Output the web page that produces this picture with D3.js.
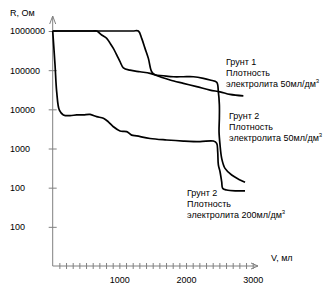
<!DOCTYPE html>
<html>
<head>
<meta charset="utf-8">
<script src="https://cdn.jsdelivr.net/npm/d3@7"></script>
<style>
  body { margin: 0; background: #fff; }
  svg { display: block; font-family: "Liberation Sans", Arial, sans-serif; }
</style>
</head>
<body>
<svg id="chart" width="324" height="286"></svg>
<script>
// Soil 1, electrolyte 50 ml/dm3
const soil1Volume = [0, 300, 600, 660, 735, 810, 860, 910, 960, 1010, 1060, 1160, 1310, 1460, 1610, 1760, 1960, 2160, 2360, 2510, 2660, 2860];
const soil1R = [1e6, 1e6, 1e6, 1e6, 790000, 650000, 490000, 360000, 245000, 165000, 115000, 100000, 91000, 83000, 68000, 56000, 46000, 38000, 31000, 28000, 24000, 22000];

// Soil 2, electrolyte 50 ml/dm3
const soil2Volume = [0, 600, 1200, 1285, 1335, 1385, 1435, 1485, 1535, 1660, 1810, 1960, 2110, 2260, 2360, 2460, 2485, 2500, 2500, 2495, 2510, 2535, 2585, 2685, 2810, 2885];
const soil2R = [1e6, 1e6, 1e6, 1e6, 650000, 360000, 200000, 91000, 76000, 72000, 68000, 68000, 68000, 62000, 56000, 49000, 28000, 13000, 5900, 2700, 1230, 560, 310, 210, 158, 137];

// Soil 2, electrolyte 200 ml/dm3
const soil2bVolume = [0, 35, 60, 100, 160, 260, 360, 460, 560, 660, 760, 835, 910, 1010, 1110, 1185, 1260, 1460, 1710, 1960, 2210, 2410, 2460, 2475, 2485, 2510, 2535, 2550, 2610, 2760, 2885];
const soil2bR = [1e6, 135000, 28000, 9500, 7200, 6900, 7200, 7200, 7400, 6500, 5900, 4800, 3600, 2800, 2700, 2200, 2100, 1800, 1650, 1550, 1500, 1550, 1350, 830, 380, 255, 140, 96, 87, 83, 83];

const yTicks = [1e6, 1e5, 1e4, 1e3, 100, 10];
const yTickLabels = ['1000000', '100000', '10000', '1000', '100', '100'];
const xMinorTicks = d3.range(100, 3001, 100);
const xLabelTicks = [1000, 2000, 3000];

const series = [
  { v: soil1Volume, r: soil1R },
  { v: soil2Volume, r: soil2R },
  { v: soil2bVolume, r: soil2bR }
];

const labels = [
  { x: 226, y: 65, lines: ['Грунт 1', 'Плотность', 'электролита 50мл/дм'] },
  { x: 229, y: 119, lines: ['Грунт 2', 'Плотность', 'электролита 50мл/дм'] },
  { x: 187, y: 196, lines: ['Грунт 2', 'Плотность', 'электролита 200мл/дм'] }
];

const AXIS_COLOR = '#808080';

const svg = d3.select('#chart');
const x0 = 52.7, y0 = 266;

const x = d3.scaleLinear().domain([0, 3000]).range([x0, 252.7]);
const y = d3.scaleLog().domain([1, 1e6]).range([y0, 31]);

// y axis
const yAxis = svg.append('g')
  .attr('transform', `translate(${x0},0)`)
  .call(d3.axisLeft(y).tickValues(yTicks).tickSize(4)
    .tickFormat((d, i) => yTickLabels[i]));
yAxis.select('.domain').remove();
yAxis.selectAll('.tick line').attr('x1', 4).attr('stroke', AXIS_COLOR);
yAxis.selectAll('.tick text')
  .attr('text-anchor', 'start')
  .attr('x', 10 - x0)
  .attr('font-size', 9)
  .attr('font-family', '"Liberation Sans", Arial, sans-serif')
  .attr('fill', '#000');

// x axis
const xAxis = svg.append('g')
  .attr('transform', `translate(0,${y0})`)
  .call(d3.axisBottom(x).tickValues(xMinorTicks).tickSize(3)
    .tickFormat(d => xLabelTicks.includes(d) ? d : ''));
xAxis.select('.domain').remove();
xAxis.selectAll('.tick line').attr('y1', -3).attr('stroke', AXIS_COLOR);
xAxis.selectAll('.tick text')
  .attr('y', 17).attr('dy', 0)
  .attr('font-size', 9)
  .attr('font-family', '"Liberation Sans", Arial, sans-serif')
  .attr('fill', '#000');

// axis lines with open arrows
const axisPath = `M${x0},16 L${x0},${y0} L258,${y0}`;
svg.append('path').attr('d', axisPath)
  .attr('fill', 'none').attr('stroke', AXIS_COLOR).attr('stroke-width', 1);
svg.append('path')
  .attr('d', `M${x0 - 3},24 L${x0},16 L${x0 + 3},24 M251,${y0 - 3} L258,${y0} L251,${y0 + 3}`)
  .attr('fill', 'none').attr('stroke', AXIS_COLOR).attr('stroke-width', 1);

// axis titles
svg.append('text').attr('x', 10).attr('y', 16).attr('font-size', 9).text('R, Ом');
svg.append('text').attr('x', 271).attr('y', 261).attr('font-size', 9).text('V, мл');

// curves
const line = d3.line()
  .x(d => x(d[0]))
  .y(d => y(d[1]))
  .curve(d3.curveCatmullRom.alpha(0.5));

series.forEach(s => {
  svg.append('path')
    .datum(s.v.map((v, i) => [v, s.r[i]]))
    .attr('d', line)
    .attr('fill', 'none')
    .attr('stroke', '#000')
    .attr('stroke-width', 1.7)
    .attr('stroke-linejoin', 'round');
});

// curve labels
labels.forEach(l => {
  const t = svg.append('text').attr('font-size', 9).attr('fill', '#000');
  l.lines.forEach((s, i) => {
    t.append('tspan').attr('x', l.x).attr('y', l.y + i * 11).text(s);
  });
  t.append('tspan').attr('dy', -4).attr('font-size', 6).text('3');
});
</script>
</body>
</html>
